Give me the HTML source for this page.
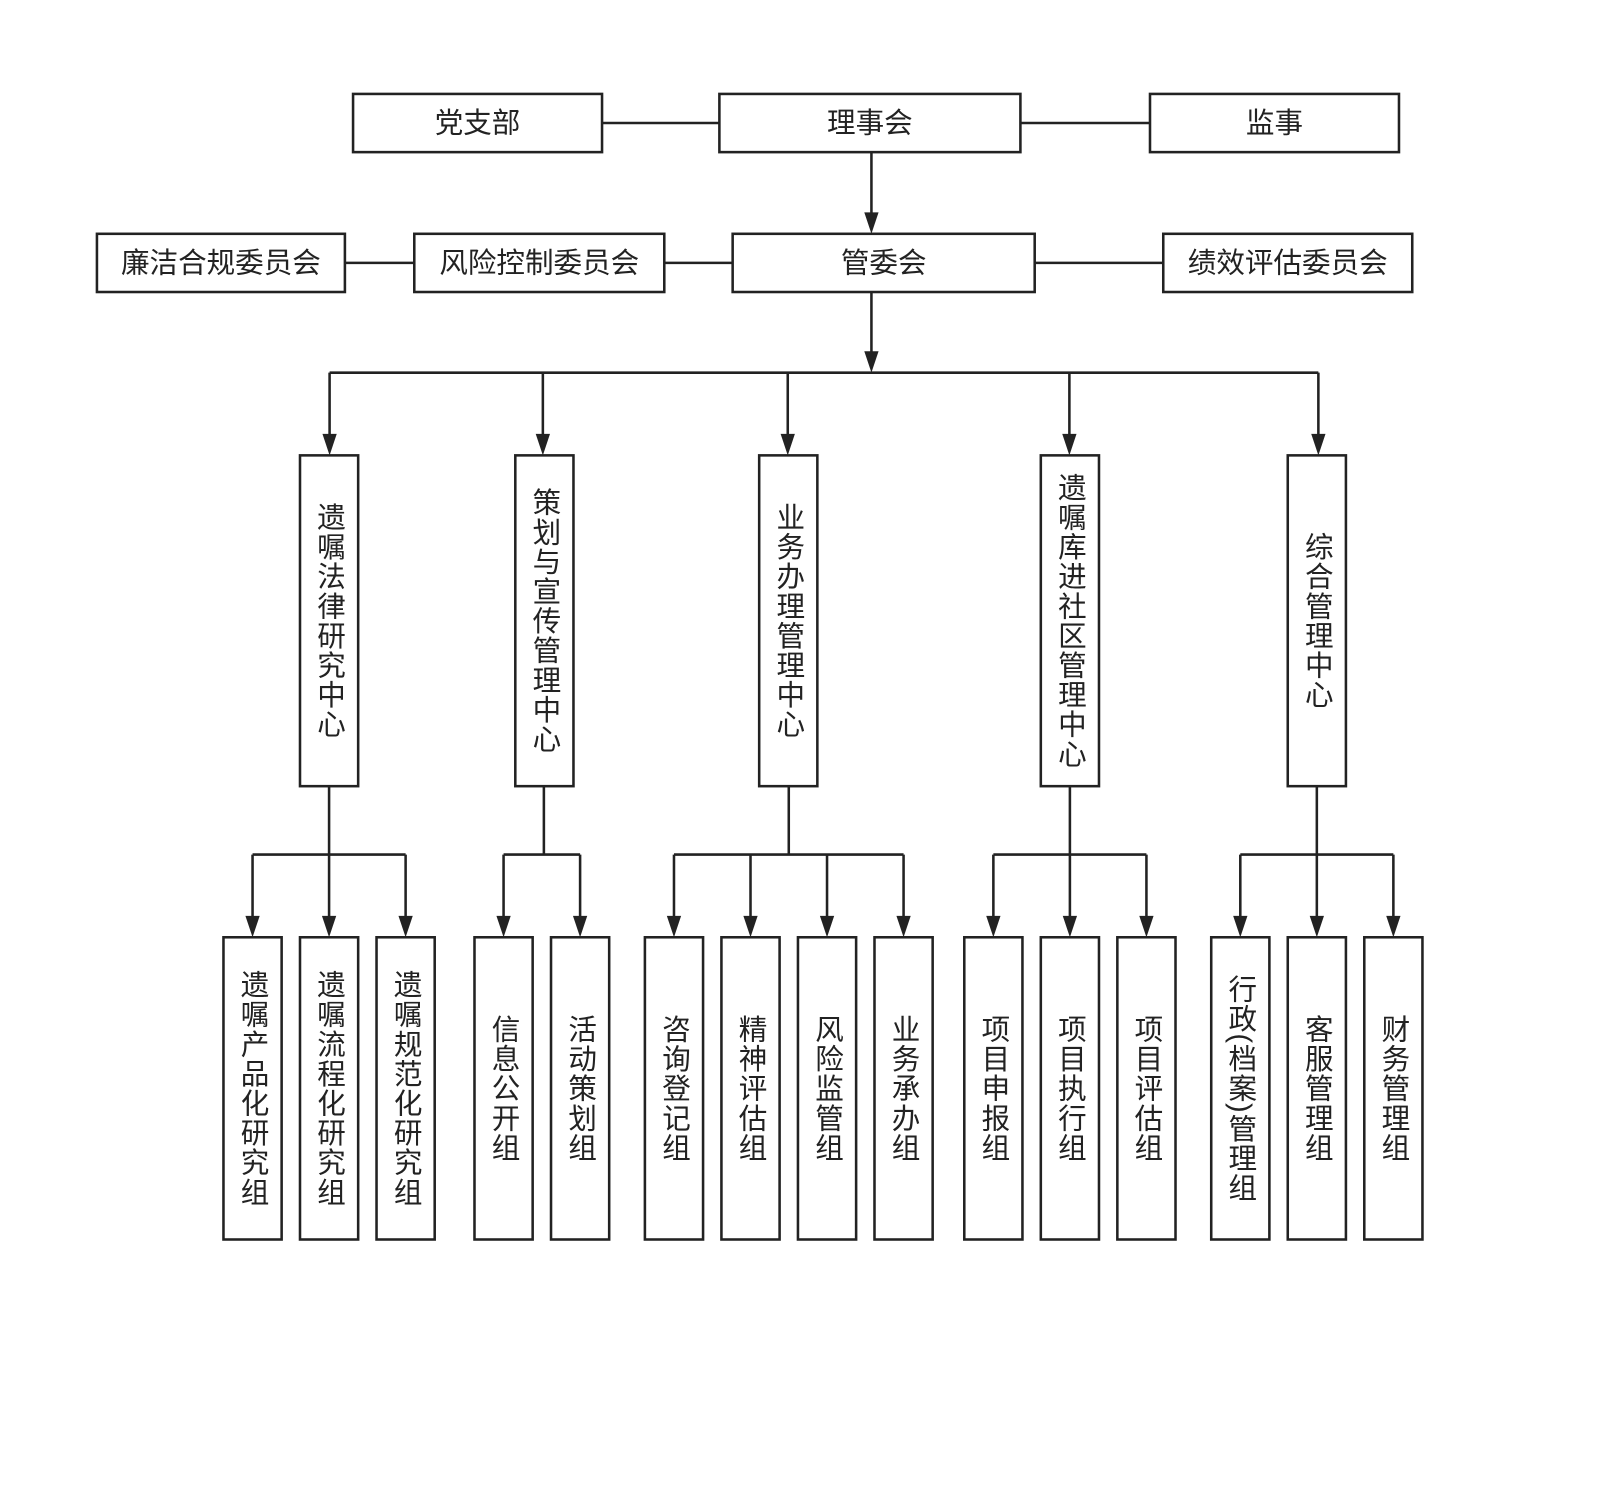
<!DOCTYPE html>
<html><head><meta charset="utf-8"><style>
html,body{margin:0;padding:0;background:#fff;}
svg{display:block;}
text{font-family:"Liberation Sans","Noto Sans CJK SC",sans-serif;font-size:28px;fill:#222;}
.v{writing-mode:vertical-rl;text-anchor:middle;letter-spacing:1px;}
</style></head><body>
<svg width="1600" height="1507" viewBox="0 0 1568 1476" preserveAspectRatio="none" xmlns="http://www.w3.org/2000/svg">
<g stroke="#222" stroke-width="2.5" fill="none">
<rect x="346" y="92" width="244" height="57"/>
<rect x="705" y="92" width="295" height="57"/>
<rect x="1127" y="92" width="244" height="57"/>
<line x1="590" y1="120.5" x2="705" y2="120.5"/>
<line x1="1000" y1="120.5" x2="1127" y2="120.5"/>
<rect x="95" y="229" width="243" height="57"/>
<rect x="406" y="229" width="245" height="57"/>
<rect x="718" y="229" width="296" height="57"/>
<rect x="1140" y="229" width="244" height="57"/>
<line x1="338" y1="257.5" x2="406" y2="257.5"/>
<line x1="651" y1="257.5" x2="718" y2="257.5"/>
<line x1="1014" y1="257.5" x2="1140" y2="257.5"/>
<line x1="854" y1="149" x2="854" y2="210"/>
<line x1="854" y1="286" x2="854" y2="346"/>
<line x1="323" y1="365" x2="1292" y2="365"/>
<line x1="323" y1="365" x2="323" y2="428"/>
<line x1="532" y1="365" x2="532" y2="428"/>
<line x1="772" y1="365" x2="772" y2="428"/>
<line x1="1048" y1="365" x2="1048" y2="428"/>
<line x1="1292" y1="365" x2="1292" y2="428"/>
<rect x="294" y="446" width="57" height="324"/>
<rect x="505" y="446" width="57" height="324"/>
<rect x="744" y="446" width="57" height="324"/>
<rect x="1020" y="446" width="57" height="324"/>
<rect x="1262" y="446" width="57" height="324"/>
<line x1="322.5" y1="770" x2="322.5" y2="900"/>
<line x1="533" y1="770" x2="533" y2="837"/>
<line x1="773" y1="770" x2="773" y2="837"/>
<line x1="1048.5" y1="770" x2="1048.5" y2="900"/>
<line x1="1290.5" y1="770" x2="1290.5" y2="900"/>
<line x1="247.5" y1="837" x2="397.5" y2="837"/>
<line x1="493.5" y1="837" x2="568.5" y2="837"/>
<line x1="660.5" y1="837" x2="885.5" y2="837"/>
<line x1="973.5" y1="837" x2="1123.5" y2="837"/>
<line x1="1215.5" y1="837" x2="1365.5" y2="837"/>
<line x1="247.5" y1="837" x2="247.5" y2="900"/>
<line x1="397.5" y1="837" x2="397.5" y2="900"/>
<line x1="493.5" y1="837" x2="493.5" y2="900"/>
<line x1="568.5" y1="837" x2="568.5" y2="900"/>
<line x1="660.5" y1="837" x2="660.5" y2="900"/>
<line x1="735.5" y1="837" x2="735.5" y2="900"/>
<line x1="810.5" y1="837" x2="810.5" y2="900"/>
<line x1="885.5" y1="837" x2="885.5" y2="900"/>
<line x1="973.5" y1="837" x2="973.5" y2="900"/>
<line x1="1123.5" y1="837" x2="1123.5" y2="900"/>
<line x1="1215.5" y1="837" x2="1215.5" y2="900"/>
<line x1="1365.5" y1="837" x2="1365.5" y2="900"/>
<rect x="219" y="918" width="57" height="296"/>
<rect x="294" y="918" width="57" height="296"/>
<rect x="369" y="918" width="57" height="296"/>
<rect x="465" y="918" width="57" height="296"/>
<rect x="540" y="918" width="57" height="296"/>
<rect x="632" y="918" width="57" height="296"/>
<rect x="707" y="918" width="57" height="296"/>
<rect x="782" y="918" width="57" height="296"/>
<rect x="857" y="918" width="57" height="296"/>
<rect x="945" y="918" width="57" height="296"/>
<rect x="1020" y="918" width="57" height="296"/>
<rect x="1095" y="918" width="57" height="296"/>
<rect x="1187" y="918" width="57" height="296"/>
<rect x="1262" y="918" width="57" height="296"/>
<rect x="1337" y="918" width="57" height="296"/>
</g>
<g fill="#222">
<path d="M847,208 L861,208 L854,229 Z"/>
<path d="M847,344 L861,344 L854,365 Z"/>
<path d="M316,425 L330,425 L323,446 Z"/>
<path d="M525,425 L539,425 L532,446 Z"/>
<path d="M765,425 L779,425 L772,446 Z"/>
<path d="M1041,425 L1055,425 L1048,446 Z"/>
<path d="M1285,425 L1299,425 L1292,446 Z"/>
<path d="M240.5,897 L254.5,897 L247.5,918 Z"/>
<path d="M315.5,897 L329.5,897 L322.5,918 Z"/>
<path d="M390.5,897 L404.5,897 L397.5,918 Z"/>
<path d="M486.5,897 L500.5,897 L493.5,918 Z"/>
<path d="M561.5,897 L575.5,897 L568.5,918 Z"/>
<path d="M653.5,897 L667.5,897 L660.5,918 Z"/>
<path d="M728.5,897 L742.5,897 L735.5,918 Z"/>
<path d="M803.5,897 L817.5,897 L810.5,918 Z"/>
<path d="M878.5,897 L892.5,897 L885.5,918 Z"/>
<path d="M966.5,897 L980.5,897 L973.5,918 Z"/>
<path d="M1041.5,897 L1055.5,897 L1048.5,918 Z"/>
<path d="M1116.5,897 L1130.5,897 L1123.5,918 Z"/>
<path d="M1208.5,897 L1222.5,897 L1215.5,918 Z"/>
<path d="M1283.5,897 L1297.5,897 L1290.5,918 Z"/>
<path d="M1358.5,897 L1372.5,897 L1365.5,918 Z"/>
</g>
<g text-anchor="middle">
<text x="468" y="130">党支部</text>
<text x="852.5" y="130">理事会</text>
<text x="1249" y="130">监事</text>
<text x="216.5" y="267">廉洁合规委员会</text>
<text x="528.5" y="267">风险控制委员会</text>
<text x="866" y="267">管委会</text>
<text x="1262" y="267">绩效评估委员会</text>
</g>
<text class="v" x="322.5" y="608">遗嘱法律研究中心</text>
<text class="v" x="533.5" y="608">策划与宣传管理中心</text>
<text class="v" x="772.5" y="608">业务办理管理中心</text>
<text class="v" x="1048.5" y="608">遗嘱库进社区管理中心</text>
<text class="v" x="1290.5" y="608">综合管理中心</text>
<text class="v" x="247.5" y="1066">遗嘱产品化研究组</text>
<text class="v" x="322.5" y="1066">遗嘱流程化研究组</text>
<text class="v" x="397.5" y="1066">遗嘱规范化研究组</text>
<text class="v" x="493.5" y="1066">信息公开组</text>
<text class="v" x="568.5" y="1066">活动策划组</text>
<text class="v" x="660.5" y="1066">咨询登记组</text>
<text class="v" x="735.5" y="1066">精神评估组</text>
<text class="v" x="810.5" y="1066">风险监管组</text>
<text class="v" x="885.5" y="1066">业务承办组</text>
<text class="v" x="973.5" y="1066">项目申报组</text>
<text class="v" x="1048.5" y="1066">项目执行组</text>
<text class="v" x="1123.5" y="1066">项目评估组</text>
<text class="v" x="1215.5" y="1066">行政(档案)管理组</text>
<text class="v" x="1290.5" y="1066">客服管理组</text>
<text class="v" x="1365.5" y="1066">财务管理组</text>
</svg>
</body></html>
